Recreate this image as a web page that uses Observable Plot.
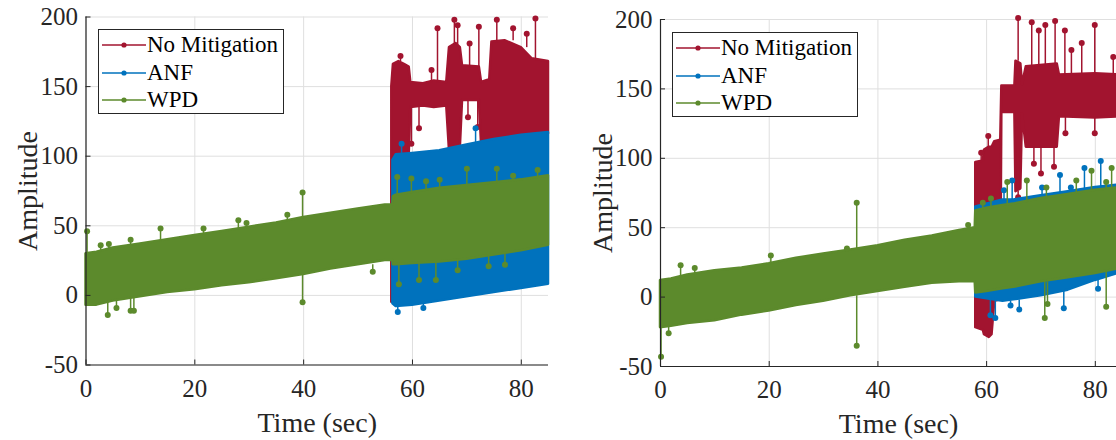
<!DOCTYPE html>
<html>
<head>
<meta charset="utf-8">
<script src="https://cdn.jsdelivr.net/npm/d3@7"></script>
<script src="https://cdn.jsdelivr.net/npm/@observablehq/plot@0.6"></script>
<style>
html,body{margin:0;padding:0;background:#fff;overflow:hidden;}
#wrap{position:relative;width:1116px;height:440px;overflow:hidden;background:#fff;}
.panel{position:absolute;top:0;}
.legend{position:absolute;border:1px solid #262626;background:#fff;box-sizing:border-box;
  font-family:"Liberation Serif","Times New Roman",serif;font-size:23px;color:#000;}
.legend .txt{position:absolute;line-height:23px;white-space:nowrap;}
.legend svg{position:absolute;}
</style>
</head>
<body>
<div id="wrap"></div>
<script>
// ---------- shared ----------
const xTicks = [0, 20, 40, 60, 80];
const yTicks = [-50, 0, 50, 100, 150, 200];
const seriesNames = ["No Mitigation", "ANF", "WPD"];
const seriesColors = ["#A2142F", "#0072BD", "#5C8A2C"];

// ---------- left panel: envelopes (time, upper, lower) ----------
const L_NoMit_t  = [56.2, 56.5, 57.5, 58.5, 59.4, 59.7, 62, 64, 66.3, 66.8, 68, 68.8, 69.2, 72.3, 72.7, 74.2, 74.6, 77, 80, 82, 85];
const L_NoMit_hi = [150, 166, 168, 166, 164, 153, 152, 154, 153, 178, 181, 178, 165, 164, 153, 155, 182, 183, 178, 170, 168];
const L_NoMit_lo = [-5, 98, 100, 101, 101, 135, 136, 135, 136, 104, 105, 106, 140, 140, 108, 110, 111, 113, 114, 115, 116];

const L_ANF_t  = [56.4, 57, 60, 65, 70, 75, 80, 85];
const L_ANF_hi = [97, 101, 102, 104, 108, 112, 115, 117];
const L_ANF_lo = [-6, -8, -7, -4, -1, 2, 5, 8];

const L_WPD_t  = [0, 2, 5, 10, 15, 20, 25, 30, 35, 40, 45, 50, 55, 56.4, 56.5, 57, 60, 65, 70, 75, 80, 85];
const L_WPD_hi = [30, 31, 34, 37, 40, 43, 46, 49, 52, 56, 59, 62, 65, 65, 71, 72, 74, 77, 79, 81, 83, 86];
const L_WPD_lo = [-7, -7, -4, -1, 2, 4, 7, 9, 12, 15, 19, 22, 25, 25, 22, 22, 23, 24, 26, 29, 32, 36];

// left panel: isolated excursions (time, start value, end value)
const L_NoMit_sp_t    = [57.8, 63.5, 64.6, 67.7, 68.3, 70.5, 72.2, 75.5, 78.5, 81, 82.6, 59.8, 61.2, 70.2, 72];
const L_NoMit_sp_base = [168, 153, 153, 180, 180, 164, 164, 182, 183, 178, 170, 135, 135, 140, 140];
const L_NoMit_sp_peak = [172, 162, 192, 198, 194, 181, 193, 198, 192, 188, 199, 109, 120, 128, 121];

const L_ANF_sp_t    = [58, 71.6, 57.3, 62];
const L_ANF_sp_base = [102, 109, -8, -6];
const L_ANF_sp_peak = [109, 120, -12, -9];

const L_WPD_sp_t    = [0.2, 2.7, 4.2, 8.2, 13.7, 21.6, 28, 29.5, 37, 39.8, 4, 5.6, 8.2, 8.8, 39.8, 52.7, 57.2, 59.8, 62.5, 65, 70, 75.5, 78.5, 83, 57.5, 61.2, 64.3, 68.3, 74, 77];
const L_WPD_sp_base = [28, 31, 33, 36, 39, 44, 47, 48, 53, 55, -5, -4, -2, -2, 15, 22, 72, 73, 75, 77, 79, 81, 82, 85, 22, 23, 24, 26, 28, 30];
const L_WPD_sp_peak = [46, 36, 37, 40, 48, 48, 54, 52, 58, 74, -14, -9, -11, -11, -5, 17, 85, 84, 82, 83, 91, 91, 86, 90, 8, 11, 11, 18, 21, 22];

// ---------- right panel: envelopes ----------
const R_NoMit_t  = [58, 59.4, 59.6, 60.5, 61, 61.5, 62.6, 62.8, 65.2, 65.4, 66.3, 66.6, 67.3, 73, 73.4, 80, 85];
const R_NoMit_hi = [97, 98, 106, 108, 108, 112, 113, 152, 152, 170, 168, 153, 166, 168, 160, 161, 160];
const R_NoMit_lo = [-22, -24, -27, -29, -27, -3, -2, 133, 133, 76, 78, 132, 108, 108, 130, 129, 130];

const R_ANF_t  = [58, 63, 65, 70, 75, 80, 85];
const R_ANF_hi = [65, 70, 70, 73, 76, 79, 81];
const R_ANF_lo = [0, -3, -2, 1, 5, 12, 18];

const R_WPD_t  = [0, 2, 5, 10, 15, 20, 25, 30, 35, 40, 45, 50, 55, 57.9, 58, 60, 63, 65, 70, 75, 80, 85];
const R_WPD_hi = [12, 13, 16, 19, 21, 24, 28, 31, 34, 37, 41, 44, 48, 50, 62, 64, 66, 67, 71, 74, 77, 79];
const R_WPD_lo = [-22, -21, -19, -17, -13, -10, -6, -3, 1, 4, 7, 10, 11, 11, 3, 4, 6, 7, 11, 14, 17, 21];

// right panel: isolated excursions
const R_NoMit_sp_t    = [59, 60.3, 65.8, 68.3, 69.6, 70.8, 72.6, 74.4, 75.6, 77.5, 79.9, 83.3, 84.5, 65.8, 68.7, 70, 72.4, 74.5, 79.9];
const R_NoMit_sp_base = [98, 106, 170, 166, 166, 167, 168, 160, 160, 161, 161, 160, 160, 76, 108, 108, 108, 130, 129];
const R_NoMit_sp_peak = [104, 116, 201, 198, 192, 196, 199, 192, 178, 183, 196, 173, 170, 72, 96, 89, 94, 118, 118];

const R_ANF_sp_t    = [63.2, 64.7, 70.2, 73.5, 75.5, 78, 81, 60.7, 61.6, 64.4, 66, 74.2, 80.5];
const R_ANF_sp_base = [70, 70, 73, 75, 76, 78, 79, 0, 0, -3, -2, 4, 12];
const R_ANF_sp_peak = [77, 84, 79, 88, 79, 93, 98, -13, -15, -6, -9, -8, 6];

const R_WPD_sp_t    = [3.7, 6.3, 20.3, 34.3, 36.1, 56.6, 0.1, 1.5, 36.1, 59.3, 60.8, 63.8, 67.4, 71, 76.5, 79.3, 82, 83, 70.7, 71.2, 82];
const R_WPD_sp_base = [15, 17, 24, 33, 34, 49, -22, -21, 1, 63, 64, 66, 68, 71, 75, 77, 78, 78, 11, 11, 19];
const R_WPD_sp_peak = [23, 21, 30, 35, 68, 52, -43, -26, -35, 68, 71, 83, 84, 79, 84, 91, 83, 93, -15, -5, -7];

const xLabel = "Time (sec)";
const yLabel = "Amplitude";

// ---------- builders ----------
const band = (t, hi, lo) => t.map((x, i) => ({t: x, hi: hi[i], lo: lo[i]}));
const spikes = (t, b, p) => t.map((x, i) => ({t: x, base: b[i], peak: p[i]}));
const gridColor = "#dfdfdf";
const axisColor = "#262626";
const H = 440;

function makePanel(cfg) {
  const plotW = cfg.width - cfg.marginLeft - cfg.marginRight;
  const plotH = H - cfg.marginTop - cfg.marginBottom;
  const marks = [
    Plot.ruleX(xTicks, {x: d => d, stroke: gridColor, strokeWidth: 1}),
    Plot.ruleY(yTicks, {y: d => d, stroke: gridColor, strokeWidth: 1})
  ];
  cfg.series.forEach((s, k) => {
    const c = seriesColors[k];
    marks.push(Plot.areaY(s.band, {x: "t", y1: "lo", y2: "hi", fill: c, stroke: c, strokeWidth: 2.5, strokeLinejoin: "round"}));
    marks.push(Plot.ruleX(s.spikes, {x: "t", y1: "base", y2: "peak", stroke: c, strokeWidth: 1.5}));
    marks.push(Plot.dot(s.spikes, {x: "t", y: "peak", r: 3, fill: c, stroke: "none"}));
  });
  marks.push(
    Plot.ruleX([0], {x: d => d, stroke: axisColor, strokeWidth: 1.2}),
    Plot.ruleY([-50], {y: d => d, stroke: axisColor, strokeWidth: 1.2}),
    Plot.tickX(xTicks, {x: d => d, insetTop: plotH - 5, stroke: axisColor}),
    Plot.tickY(yTicks, {y: d => d, insetRight: plotW - 5, stroke: axisColor}),
    Plot.axisX(xTicks, {tickSize: 0, tickPadding: 14, tickFormat: d => String(d), label: null, fontSize: 25}),
    Plot.axisY(yTicks, {tickSize: 0, tickPadding: 8, tickFormat: d => String(d), label: null, fontSize: 25}),
    Plot.text([xLabel], {text: d => d, frameAnchor: "bottom", lineAnchor: "middle", textAnchor: "middle", dy: 58, dx: cfg.labelDx, fontSize: 28, fill: axisColor}),
    Plot.text([yLabel], {text: d => d, frameAnchor: "left", lineAnchor: "middle", textAnchor: "middle", dx: -57.5, rotate: -90, fontSize: 28, fill: axisColor})
  );
  return Plot.plot({
    width: cfg.width, height: H,
    marginLeft: cfg.marginLeft, marginRight: cfg.marginRight,
    marginTop: cfg.marginTop, marginBottom: cfg.marginBottom,
    x: {domain: [0, 85], label: null},
    y: {domain: [-50, 200], label: null},
    style: {fontFamily: "'Liberation Serif','Times New Roman',serif", fontSize: "25px", color: axisColor, background: "transparent", overflow: "visible"},
    marks
  });
}

function makeLegend(left, top) {
  const div = document.createElement("div");
  div.className = "legend";
  Object.assign(div.style, {left: left + "px", top: top + "px", width: "186px", height: "85px"});
  seriesNames.forEach((name, i) => {
    const cy = 15 + 27.5 * i;
    const svg = document.createElementNS("http://www.w3.org/2000/svg", "svg");
    svg.setAttribute("width", 44); svg.setAttribute("height", 10);
    svg.style.left = "3px"; svg.style.top = (cy - 5) + "px";
    svg.innerHTML = `<line x1="0" y1="5" x2="44" y2="5" stroke="${seriesColors[i]}" stroke-width="1.5"/><circle cx="22" cy="5" r="2.6" fill="${seriesColors[i]}"/>`;
    div.appendChild(svg);
    const t = document.createElement("div");
    t.className = "txt";
    t.textContent = name;
    t.style.left = "48px"; t.style.top = (cy - 11.6) + "px";
    div.appendChild(t);
  });
  return div;
}

const wrap = document.getElementById("wrap");

const left = makePanel({
  width: 560, marginLeft: 85.5, marginRight: 12, marginTop: 16.5, marginBottom: 75.5, labelDx: 0,
  series: [
    {band: band(L_NoMit_t, L_NoMit_hi, L_NoMit_lo), spikes: spikes(L_NoMit_sp_t, L_NoMit_sp_base, L_NoMit_sp_peak)},
    {band: band(L_ANF_t, L_ANF_hi, L_ANF_lo), spikes: spikes(L_ANF_sp_t, L_ANF_sp_base, L_ANF_sp_peak)},
    {band: band(L_WPD_t, L_WPD_hi, L_WPD_lo), spikes: spikes(L_WPD_sp_t, L_WPD_sp_base, L_WPD_sp_peak)}
  ]
});
left.classList.add("panel"); left.style.left = "0px";
wrap.appendChild(left);

const right = makePanel({
  width: 580, marginLeft: 100, marginRight: 18, marginTop: 19, marginBottom: 74, labelDx: 7,
  series: [
    {band: band(R_NoMit_t, R_NoMit_hi, R_NoMit_lo), spikes: spikes(R_NoMit_sp_t, R_NoMit_sp_base, R_NoMit_sp_peak)},
    {band: band(R_ANF_t, R_ANF_hi, R_ANF_lo), spikes: spikes(R_ANF_sp_t, R_ANF_sp_base, R_ANF_sp_peak)},
    {band: band(R_WPD_t, R_WPD_hi, R_WPD_lo), spikes: spikes(R_WPD_sp_t, R_WPD_sp_base, R_WPD_sp_peak)}
  ]
});
right.classList.add("panel"); right.style.left = "560px";
wrap.appendChild(right);

wrap.appendChild(makeLegend(98, 29));
wrap.appendChild(makeLegend(672, 32));
</script>
</body>
</html>
